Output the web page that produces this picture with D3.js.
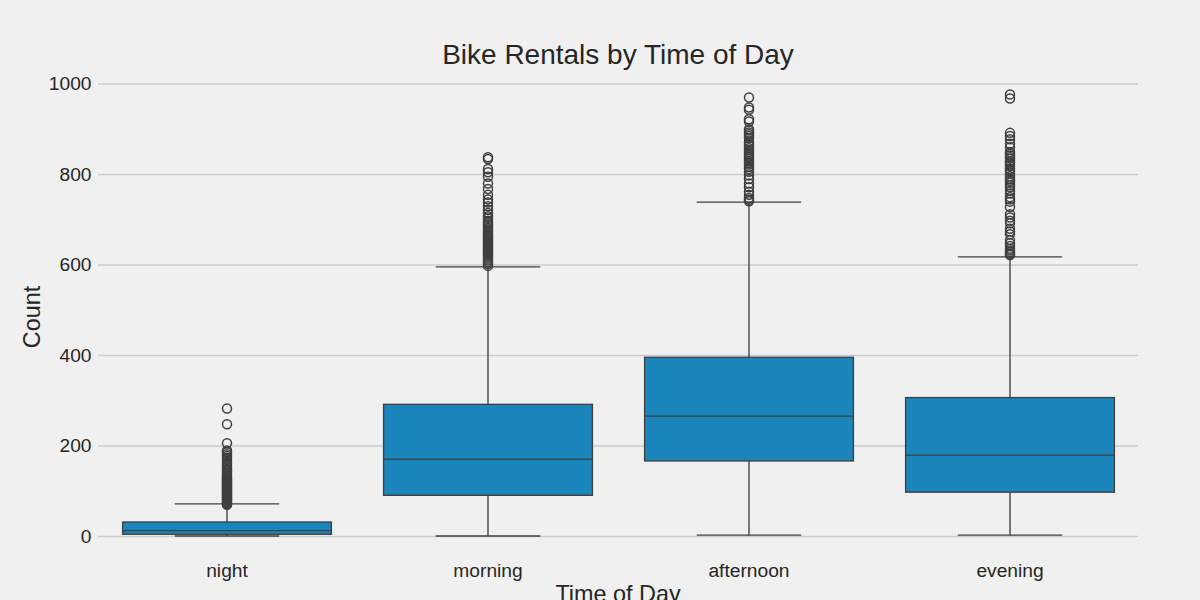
<!DOCTYPE html>
<html>
<head>
<meta charset="utf-8">
<script src="https://cdn.jsdelivr.net/npm/d3@7"></script>
<style>
  html, body { margin: 0; padding: 0; background: #f0f0f0; overflow: hidden; }
  svg { display: block; font-family: "Liberation Sans", Arial, sans-serif; }
  .tick text { fill: #262626; font-size: 19.2px; }
  .domain { display: none; }
</style>
</head>
<body>
<div id="chart"></div>
<script>
const categories = ["night", "morning", "afternoon", "evening"];
const yTicks = [0, 200, 400, 600, 800, 1000];

const lowWhisker = [1, 1, 3, 3];
const q1 = [5, 91, 167, 98];
const medians = [13, 171, 266, 180];
const q3 = [32, 292, 396, 307];
const highWhisker = [72, 596, 739, 618];

const nightOutliers = [283, 248, 206, 190, 186, 182, 178, 174, 170, 165, 161, 157, 153, 150, 147, 144, 141, 138, 135, 132, 129, 127, 125, 123, 121, 119, 117, 115, 113, 111, 109, 107, 105, 103, 101, 99, 97, 95, 93, 91, 89, 87, 85, 83, 81, 79, 77, 75, 73, 72, 70];
const morningOutliers = [838, 834, 812, 805, 795, 780, 768, 755, 745, 738, 730, 722, 715, 708, 703, 698, 694, 690, 686, 682, 678, 674, 670, 667, 664, 661, 658, 655, 652, 649, 646, 643, 640, 637, 634, 631, 628, 625, 622, 618, 614, 610, 606, 602, 598];
const afternoonOutliers = [970, 948, 943, 922, 917, 900, 897, 893, 889, 885, 880, 872, 867, 863, 858, 854, 850, 846, 842, 838, 834, 830, 826, 822, 817, 812, 806, 798, 790, 780, 772, 762, 755, 748, 744, 741];
const eveningOutliers = [977, 968, 892, 885, 878, 868, 860, 850, 846, 842, 838, 835, 830, 826, 822, 818, 812, 808, 802, 796, 790, 786, 782, 776, 772, 764, 758, 750, 745, 740, 728, 712, 705, 698, 692, 680, 674, 668, 655, 648, 642, 636, 632, 628, 625, 622];

const width = 1200,
  height = 600,
  margin = { left: 96.5, right: 59.5 };

const svg = d3.select("#chart")
  .append("svg")
  .attr("width", width)
  .attr("height", height)
  .attr("viewBox", [0, 0, width, height]);

const x = d3.scaleBand(categories, [margin.left, width - margin.right]);
const y = d3.scaleLinear([0, 1000], [536.5, 84]);

const boxWidth = x.bandwidth() * 0.8;
const capWidth = x.bandwidth() * 0.4;
const lineColor = "#3f3f3f";
const boxColor = "#1a86bc";

// grid goes first so the boxes sit over it
svg.append("g")
  .attr("class", "y-axis")
  .attr("transform", `translate(${margin.left},0)`)
  .call(d3.axisLeft(y).tickValues(yTicks).tickFormat(d => d).tickSize(-(width - margin.left - margin.right)).tickPadding(5).offset(0))
  .call(g => g.selectAll(".tick line")
    .attr("x1", 1.5)
    .attr("x2", 1041.5)
    .attr("stroke", "#cbcbcb")
    .attr("stroke-width", 1.5));

svg.append("g")
  .attr("class", "x-axis")
  .attr("transform", "translate(0,550)")
  .call(d3.axisBottom(x).tickSize(0).tickPadding(13));

const rows = categories.map((name, i) => ({
  name,
  low: lowWhisker[i],
  q1: q1[i],
  median: medians[i],
  q3: q3[i],
  high: highWhisker[i],
  outliers: [nightOutliers, morningOutliers, afternoonOutliers, eveningOutliers][i]
}));

const box = svg.append("g")
  .selectAll("g")
  .data(rows)
  .join("g")
  .attr("transform", d => `translate(${x(d.name) + x.bandwidth() / 2},0)`)
  .attr("stroke", lineColor)
  .attr("stroke-width", 1.35);

box.append("line")
  .attr("y1", d => y(d.low))
  .attr("y2", d => y(d.q1));

box.append("line")
  .attr("y1", d => y(d.q3))
  .attr("y2", d => y(d.high));

box.selectAll(".cap")
  .data(d => [d.low, d.high])
  .join("line")
  .attr("class", "cap")
  .attr("x1", -capWidth / 2)
  .attr("x2", capWidth / 2)
  .attr("y1", d => y(d))
  .attr("y2", d => y(d));

box.append("rect")
  .attr("x", -boxWidth / 2)
  .attr("width", boxWidth)
  .attr("y", d => y(d.q3))
  .attr("height", d => y(d.q1) - y(d.q3))
  .attr("fill", boxColor);

box.append("line")
  .attr("x1", -boxWidth / 2)
  .attr("x2", boxWidth / 2)
  .attr("y1", d => y(d.median))
  .attr("y2", d => y(d.median));

box.selectAll("circle")
  .data(d => d.outliers)
  .join("circle")
  .attr("cy", d => y(d))
  .attr("r", 4.5)
  .attr("fill", "none")
  .attr("stroke-width", 1.5);

svg.append("text")
  .attr("x", 618)
  .attr("y", 64)
  .attr("text-anchor", "middle")
  .attr("font-size", 28)
  .attr("fill", "#262626")
  .text("Bike Rentals by Time of Day");

// clipped by the bottom edge in the original too
svg.append("text")
  .attr("x", 618)
  .attr("y", 602)
  .attr("text-anchor", "middle")
  .attr("font-size", 23.4)
  .attr("fill", "#262626")
  .text("Time of Day");

svg.append("text")
  .attr("transform", "translate(40,317) rotate(-90)")
  .attr("text-anchor", "middle")
  .attr("font-size", 23.4)
  .attr("fill", "#262626")
  .text("Count");
</script>
</body>
</html>
